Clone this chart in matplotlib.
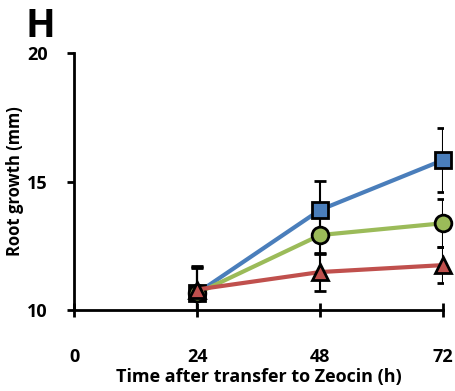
import matplotlib
matplotlib.use("Agg")
import matplotlib.pyplot as plt

hours = [24, 48, 72]
blue_vals = [10.66, 13.9, 15.84]
blue_err = [1.0, 1.13, 1.25]
green_vals = [10.65, 12.92, 13.38]
green_err = [1.0, 0.75, 0.93]
red_vals = [10.8, 11.48, 11.75]
red_err = [0.9, 0.73, 0.7]

x_ticks = [0, 24, 48, 72]
y_ticks = [10, 15, 20]

plt.rcParams['font.family'] = ['Open Sans', 'DejaVu Sans']
plt.rcParams['font.weight'] = 'bold'

fig = plt.figure(figsize=(4.55, 3.91), dpi=100)
ax = fig.add_axes([0.163, 0.207, 0.811, 0.657])

series = [
    (blue_vals, blue_err, '#4a7ebb', 's', 11),
    (green_vals, green_err, '#9bbb59', 'o', 12),
    (red_vals, red_err, '#c0504d', '^', 12),
]
for vals, err, col, mk, ms in series:
    cont = ax.errorbar(hours, vals, yerr=err, color=col, lw=3, marker=mk, ms=ms,
                       mfc=col, mec='black', mew=2, ecolor='black', elinewidth=1.5,
                       capsize=4, capthick=1.5, zorder=3)
    # keep the markers at x=72 whole
    cont.lines[0].set_clip_on(False)

ax.set_xlim(0, 72)
ax.set_ylim(10, 20)
ax.set_xticks(x_ticks)
ax.set_yticks(y_ticks)
for s in ['top', 'right']:
    ax.spines[s].set_visible(False)
for s in ['left', 'bottom']:
    ax.spines[s].set_linewidth(2)
ax.tick_params(axis='x', direction='inout', length=10, width=2, pad=22, labelsize=13)
ax.tick_params(axis='y', direction='out', length=5, width=2, pad=14, labelsize=13)
ax.set_xlabel('Time after transfer to Zeocin (h)', fontsize=13, fontweight='bold', labelpad=2)
ax.set_ylabel('Root growth (mm)', fontsize=12, fontweight='bold', labelpad=2)
for lab in ax.get_xticklabels() + ax.get_yticklabels():
    lab.set_fontweight('bold')

fig.text(0.055, 0.905, 'H', fontsize=28, fontweight='bold')

fig.savefig('out.png', dpi=100)
